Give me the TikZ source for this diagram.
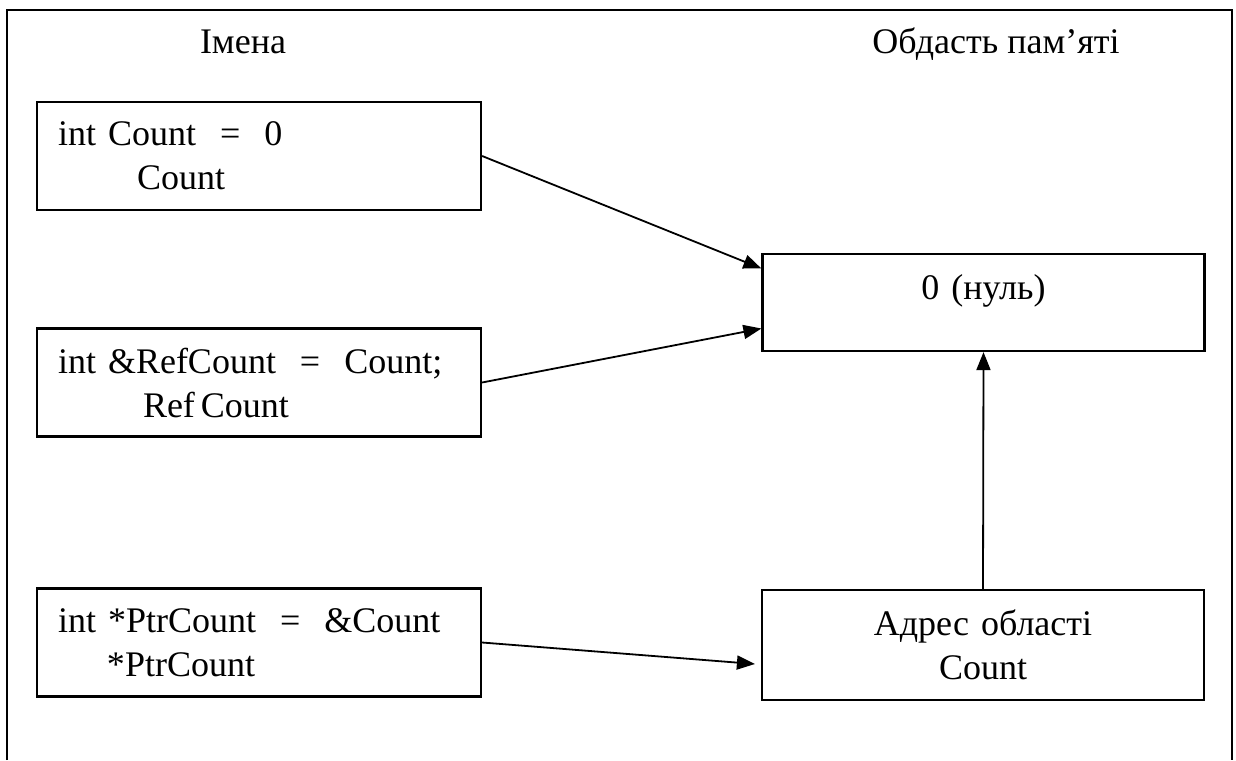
\documentclass[tikz,border=0pt]{standalone}
\usepackage{fontspec}
\setmainfont{Liberation Serif}
\usepackage{tikz}
\usetikzlibrary{arrows.meta}

\tikzset{
  title/.style={anchor=base, font=\fontsize{18}{22}\selectfont},
  namebox/.style={draw, line width=1.1pt, minimum height=54pt, inner xsep=10.5pt,
    text width=201pt, align=left, font=\fontsize{18}{22}\selectfont},
  membox/.style={draw, line width=1.1pt, inner xsep=10.5pt,
    text width=200pt, align=center, font=\fontsize{18}{22}\selectfont},
  arr/.style={-{Triangle[length=9pt,width=7pt]}, line width=0.9pt}
}

\begin{document}
\begin{tikzpicture}[x=0.5pt,y=-0.5pt]
\useasboundingbox (0,0) rectangle (1236,760);
\draw[line width=1.2pt] (7,760) -- (7,10) -- (1232,10) -- (1232,760);

\node[title] (names) at (243,53) {Імена};
\node[title] (memory) at (996,53) {Обдасть пам’яті};

\node[namebox] (cnt) at (259,156) {int Count\ \ =\ \ 0\\\hspace*{39.5pt}Count};
\node[namebox] (ref) at (259,382.5) {int \&RefCount\ \ =\ \ Count;\\\hspace*{42.5pt}Ref\,Count};
\node[namebox] (ptr) at (259,642.5) {int *PtrCount\ \ =\ \ \&Count\\\hspace*{24.5pt}*PtrCount};

\node[membox, minimum height=48.5pt, text depth=15pt] (zero) at (983.5,302.5) {0 (нуль)};
\node[membox, minimum height=55pt] (addr) at (983,645) {Адрес області\\Count};

\draw[arr] (cnt.east) -- ([yshift=17pt]zero.west);
\draw[arr] (ref.east) -- ([yshift=-13pt]zero.west);
\draw[arr] (ptr.east) -- ([xshift=-3pt,yshift=-9.5pt]addr.west);
\draw[arr] (addr.north) -- (zero.south);
\end{tikzpicture}
\end{document}
